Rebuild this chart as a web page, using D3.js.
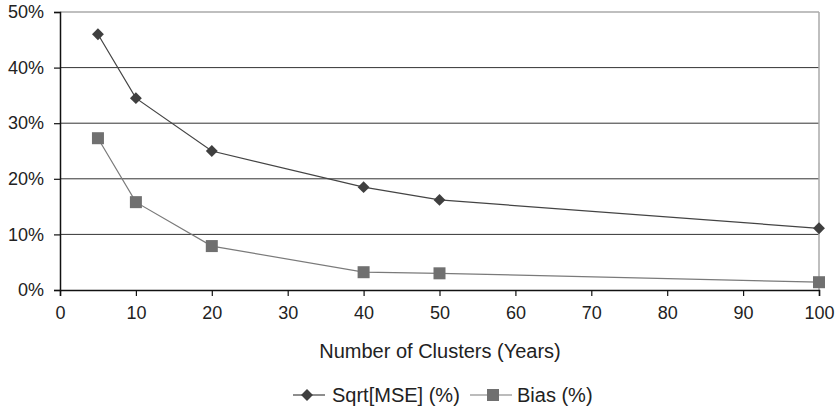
<!DOCTYPE html>
<html>
<head>
<meta charset="utf-8">
<script src="https://cdn.jsdelivr.net/npm/d3@7"></script>
<style>
  body { margin: 0; background: #fff; }
  svg { font-family: "Liberation Sans", Arial, sans-serif; }
</style>
</head>
<body>
<div id="chart"></div>
<script>
const clusters = [5, 10, 20, 40, 50, 100];
const sqrtMse = [46.0, 34.5, 25.0, 18.5, 16.2, 11.1];
const bias = [27.3, 15.8, 7.9, 3.2, 3.0, 1.4];
const xTicks = [0, 10, 20, 30, 40, 50, 60, 70, 80, 90, 100];
const yTicks = [0, 10, 20, 30, 40, 50];

const svgWidth = 836, svgHeight = 409;
const margin = {top: 12, right: 17, bottom: 119, left: 60},
      width = svgWidth - margin.left - margin.right,
      height = svgHeight - margin.top - margin.bottom;

const svg = d3.select("#chart").append("svg")
    .attr("width", svgWidth).attr("height", svgHeight);
const g = svg.append("g")
    .attr("transform", "translate(" + margin.left + "," + margin.top + ")");

const x = d3.scaleLinear().domain([0, 100]).range([0, width]);
const y = d3.scaleLinear().domain([0, 50]).range([height, 0]);

// gridlines
g.append("g").selectAll("line")
    .data(yTicks.filter(d => d > 0 && d < 50))
    .enter().append("line")
    .attr("x1", 0).attr("x2", width)
    .attr("y1", d => y(d)).attr("y2", d => y(d))
    .attr("stroke", "#333").attr("stroke-width", 1);

// top & right border
g.append("line").attr("x1", 0).attr("x2", width).attr("y1", y(50)).attr("y2", y(50))
    .attr("stroke", "#aaa").attr("stroke-width", 1.5);
g.append("line").attr("x1", width).attr("x2", width).attr("y1", 0).attr("y2", height)
    .attr("stroke", "#aaa").attr("stroke-width", 1.5);

// axes
const xAxis = g.append("g")
    .attr("transform", "translate(0," + height + ")")
    .call(d3.axisBottom(x).tickValues(xTicks).tickSize(6).tickPadding(10));
const yAxis = g.append("g")
    .call(d3.axisLeft(y).tickValues(yTicks).tickFormat(d => d + "%").tickSize(6).tickPadding(10));
[xAxis, yAxis].forEach(a => {
  a.attr("font-size", 18).attr("font-family", "'Liberation Sans', Arial, sans-serif");
  a.select(".domain").attr("stroke", "#111").attr("stroke-width", 1.5);
  a.selectAll(".tick line").attr("stroke", "#111").attr("stroke-width", 1.2);
  a.selectAll("text").attr("fill", "#222");
});

// lines
const line = d3.line().x(d => x(d[0])).y(d => y(d[1]));
const sqrtData = clusters.map((c, i) => [c, sqrtMse[i]]);
const biasData = clusters.map((c, i) => [c, bias[i]]);

g.append("path").datum(biasData).attr("d", line)
    .attr("fill", "none").attr("stroke", "#7a7a7a").attr("stroke-width", 1.2);
g.append("path").datum(sqrtData).attr("d", line)
    .attr("fill", "none").attr("stroke", "#444").attr("stroke-width", 1.2);

const diamond = d3.symbol().type(d3.symbolDiamond2).size(90);
g.selectAll(".m-sqrt").data(sqrtData).enter().append("path")
    .attr("transform", d => "translate(" + x(d[0]) + "," + y(d[1]) + ")")
    .attr("d", diamond).attr("fill", "#3f3f3f");

g.selectAll(".m-bias").data(biasData).enter().append("rect")
    .attr("x", d => x(d[0]) - 6).attr("y", d => y(d[1]) - 6)
    .attr("width", 12).attr("height", 12).attr("fill", "#707070");

// axis title
svg.append("text")
    .attr("x", 440).attr("y", 358)
    .attr("text-anchor", "middle").attr("fill", "#222")
    .attr("font-size", 20)
    .text("Number of Clusters (Years)");

// legend
const leg = svg.append("g").attr("transform", "translate(0,395)");
leg.append("line").attr("x1", 293).attr("x2", 325).attr("y1", 0).attr("y2", 0)
    .attr("stroke", "#444").attr("stroke-width", 1.2);
leg.append("path").attr("transform", "translate(307,0)").attr("d", diamond).attr("fill", "#3f3f3f");
leg.append("text").attr("x", 332).attr("y", 7).attr("fill", "#222")
    .attr("font-size", 20).text("Sqrt[MSE] (%)");
leg.append("line").attr("x1", 470).attr("x2", 512).attr("y1", 0).attr("y2", 0)
    .attr("stroke", "#7a7a7a").attr("stroke-width", 1.2);
leg.append("rect").attr("x", 487).attr("y", -6).attr("width", 12).attr("height", 12).attr("fill", "#707070");
leg.append("text").attr("x", 517).attr("y", 7).attr("fill", "#222")
    .attr("font-size", 20).text("Bias (%)");
</script>
</body>
</html>
